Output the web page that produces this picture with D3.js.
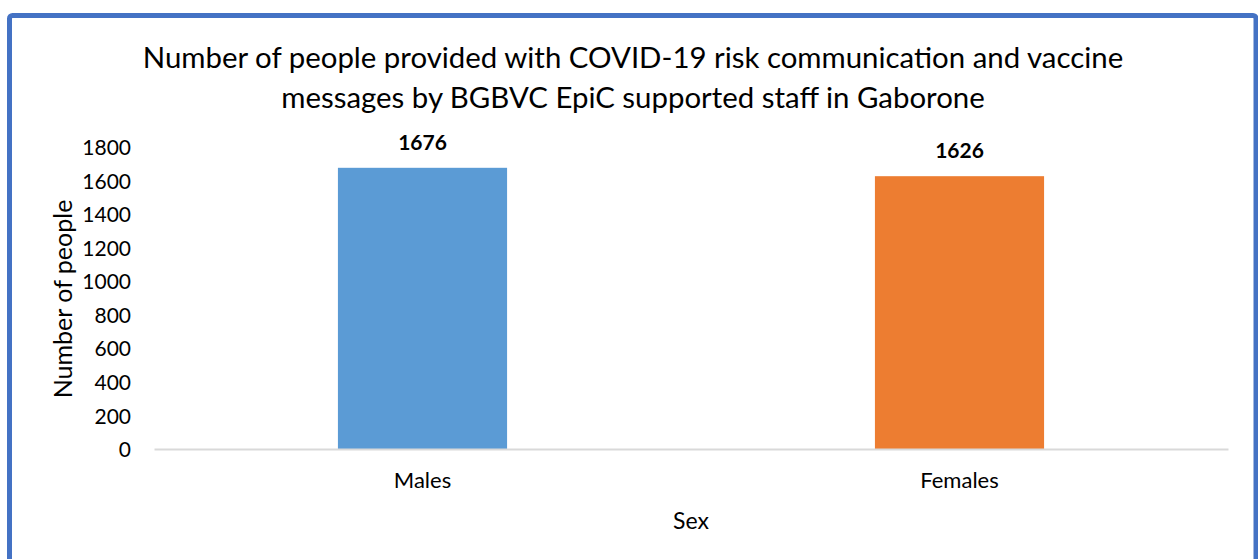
<!DOCTYPE html>
<html>
<head>
<meta charset="utf-8">
<script src="https://cdn.jsdelivr.net/npm/d3@7"></script>
<style>
  html, body { margin: 0; padding: 0; background: #fff; }
  svg { display: block; }
  text { font-family: Lato, "Open Sans", "Noto Sans", sans-serif; fill: #000; }
</style>
</head>
<body>
<svg id="chart" width="1258" height="559"></svg>
<script>
// Data
const categories = ["Males", "Females"];
const values = [1676, 1626];
const colors = ["#5B9BD5", "#ED7D31"];
const yTicks = [0, 200, 400, 600, 800, 1000, 1200, 1400, 1600, 1800];
const titleLines = [
  "Number of people provided with COVID-19 risk communication and vaccine",
  "messages by BGBVC EpiC supported staff in Gaborone"
];
const xAxisTitle = "Sex";
const yAxisTitle = "Number of people";

const svg = d3.select("#chart");

// Frame around the chart
svg.append("rect")
  .attr("x", 9.5).attr("y", 15.5)
  .attr("width", 1246.5).attr("height", 600)
  .attr("rx", 3)
  .attr("fill", "#fff")
  .attr("stroke", "#4472C4")
  .attr("stroke-width", 5);

const plot = { left: 154, right: 1228, top: 147, bottom: 449 };

const x = d3.scaleBand()
  .domain(categories)
  .range([plot.left, plot.right])
  .paddingInner(0.685)
  .paddingOuter(0.3425);

const y = d3.scaleLinear()
  .domain([0, 1800])
  .range([plot.bottom, plot.top]);

// Title
svg.append("g").selectAll("text")
  .data(titleLines)
  .join("text")
  .attr("x", 633)
  .attr("y", (d, i) => 68 + i * 40)
  .attr("text-anchor", "middle")
  .style("font-size", "29.4px")
  .text(d => d);

// Y axis tick labels
const yAxis = d3.axisLeft(y).tickValues(yTicks).tickFormat(d3.format("d"))
  .tickSize(0).tickPadding(0);
const gy = svg.append("g")
  .attr("transform", `translate(${plot.left - 23},0)`)
  .call(yAxis);
gy.select(".domain").remove();
gy.selectAll("text")
  .style("font-size", "21px")
  .style("font-family", "Lato, 'Open Sans', sans-serif")
  .attr("fill", "#000")
  .attr("dy", "0.36em");

// Bars
svg.append("g").selectAll("rect")
  .data(values)
  .join("rect")
  .attr("x", (d, i) => x(categories[i]))
  .attr("width", x.bandwidth())
  .attr("y", d => y(d))
  .attr("height", d => y(0) - y(d))
  .attr("fill", (d, i) => colors[i]);

// Value labels
svg.append("g").selectAll("text")
  .data(values)
  .join("text")
  .attr("x", (d, i) => x(categories[i]) + x.bandwidth() / 2)
  .attr("y", d => y(d) - 18)
  .attr("text-anchor", "middle")
  .style("font-size", "21px")
  .style("font-weight", "bold")
  .text(d => d);

// X axis baseline and category labels
const xAxis = d3.axisBottom(x).tickSize(0).tickPadding(0);
const gx = svg.append("g")
  .attr("transform", `translate(0,${plot.bottom})`)
  .call(xAxis);
gx.select(".domain")
  .attr("stroke", "#D9D9D9")
  .attr("stroke-width", 2);
gx.selectAll("text")
  .style("font-size", "22px")
  .style("font-family", "Lato, 'Open Sans', sans-serif")
  .attr("fill", "#000")
  .attr("y", 31)
  .attr("dy", "0.36em");

// Axis titles
svg.append("text")
  .attr("x", (plot.left + plot.right) / 2)
  .attr("y", 521)
  .attr("dy", "0.36em")
  .attr("text-anchor", "middle")
  .style("font-size", "23px")
  .text(xAxisTitle);

svg.append("text")
  .attr("transform", `translate(63,${(plot.top + plot.bottom) / 2 + 1}) rotate(-90)`)
  .attr("dy", "0.36em")
  .attr("text-anchor", "middle")
  .style("font-size", "25px")
  .text(yAxisTitle);
</script>
</body>
</html>
